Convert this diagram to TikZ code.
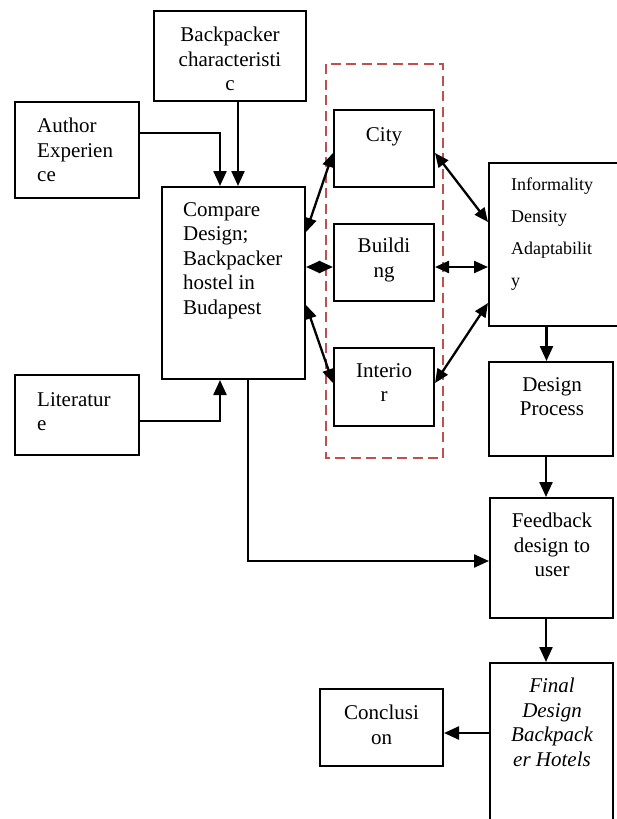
\documentclass[tikz,border=0pt]{standalone}
\usepackage{fontspec}
\setmainfont{Liberation Serif}
\usetikzlibrary{arrows.meta}
\definecolor{dashred}{HTML}{C0504D}

\begin{document}
\begin{tikzpicture}[x=1pt,y=-1pt,
  box/.style={draw,line width=2pt,inner sep=0pt},
  txt/.style={inner sep=0pt,align=center,font=\fontsize{21}{24.5}\selectfont},
  arr/.style={line width=2.3pt,-{Triangle[length=15pt,width=13pt]}},
  biarr/.style={line width=2.3pt,{Triangle[length=14pt,width=12pt]}-{Triangle[length=14pt,width=12pt]}}]
  \useasboundingbox (0,0) rectangle (616,819);
  \draw[dashred,line width=2pt,dash pattern=on 10pt off 5.5pt] (326,64) rectangle (443,458);

  \node[box,minimum width=152pt,minimum height=90pt] (bpc) at (230,56) {};
  \node[box,minimum width=124pt,minimum height=96pt] (auth) at (77,150) {};
  \node[box,minimum width=143pt,minimum height=192pt] (comp) at (233.5,283) {};
  \node[box,minimum width=124pt,minimum height=80pt] (lit) at (77,415) {};
  \node[box,minimum width=100pt,minimum height=77pt] (city) at (384,148.5) {};
  \node[box,minimum width=100pt,minimum height=77pt] (bldg) at (384,262.5) {};
  \node[box,minimum width=100pt,minimum height=78pt] (intr) at (384,387) {};
  \node[box,minimum width=131pt,minimum height=163pt] (info) at (554.5,244.5) {};
  \node[box,minimum width=124pt,minimum height=94pt] (dp) at (551,409) {};
  \node[box,minimum width=123pt,minimum height=120pt] (fb) at (551.5,558) {};
  \node[box,minimum width=123pt,minimum height=175pt] (fin) at (551.5,750.5) {};
  \node[box,minimum width=123pt,minimum height=77pt] (conc) at (381.5,727.5) {};

  \node[txt,anchor=north] (bpc-t) at (230,27) {Backpacker\\characteristi\\c};
  \node[txt,anchor=north west,align=left] (auth-t) at (37,118) {Author\\Experien\\ce};
  \node[txt,anchor=north west,align=left] (comp-t) at (183,202) {Compare\\Design;\\Backpacker\\hostel in\\Budapest};
  \node[txt,anchor=north west,align=left] (lit-t) at (37,392) {Literatur\\e};
  \node[txt,anchor=north] (city-t) at (384,127) {City};
  \node[txt,anchor=north] (bldg-t) at (384,238) {Buildi\\ng};
  \node[txt,anchor=north] (intr-t) at (384,363) {Interio\\r};
  \node[txt,anchor=north west,align=left,font=\fontsize{18}{32}\selectfont] (info-t) at (511,178) {Informality\\Density\\Adaptabilit\\y};
  \node[txt,anchor=north] (dp-t) at (552,377) {Design\\Process};
  \node[txt,anchor=north] (fb-t) at (552,513) {Feedback\\design to\\user};
  \node[txt,anchor=north,font=\fontsize{21}{24.5}\selectfont\itshape] (fin-t) at (552,678) {Final\\Design\\Backpack\\er Hotels};
  \node[txt,anchor=north] (conc-t) at (381.5,705) {Conclusi\\on};

  \draw[arr] ([yshift=17pt]auth.east) -| ([xshift=-13.5pt]comp.north);
  \draw[arr] ([xshift=8pt]bpc.south) -- ([xshift=8pt]bpc.south |- comp.north);
  \draw[arr] ([yshift=-6pt]lit.east) -| ([xshift=-13.5pt]comp.south);
  \draw[arr] ([xshift=14.5pt]comp.south) |- ([yshift=-3pt]fb.west);

  \draw[biarr] ([yshift=51pt]comp.east) -- ([yshift=-4.5pt]city.west);
  \draw[biarr] ([yshift=16pt]comp.east) -- ([yshift=-4.5pt]bldg.west);
  \draw[biarr] ([yshift=-22pt]comp.east) -- ([yshift=4pt]intr.west);
  \draw[biarr] ([yshift=-4.5pt]city.east) -- ([yshift=22.5pt]info.west);
  \draw[biarr] ([yshift=-4.5pt]bldg.east) -- ([yshift=-22.5pt]info.west);
  \draw[biarr] ([yshift=4pt]intr.east) -- ([yshift=-58.5pt]info.west);

  \draw[arr] ([xshift=-8pt]info.south) -- ([xshift=-8pt]info.south |- dp.north);
  \draw[arr] ([xshift=-5pt]dp.south) -- ([xshift=-5pt]dp.south |- fb.north);
  \draw[arr] ([xshift=-5.5pt]fb.south) -- ([xshift=-5.5pt]fb.south |- fin.north);
  \draw[arr] ([yshift=17.5pt]fin.west) -- ([yshift=-5.5pt]conc.east);
\end{tikzpicture}
\end{document}
